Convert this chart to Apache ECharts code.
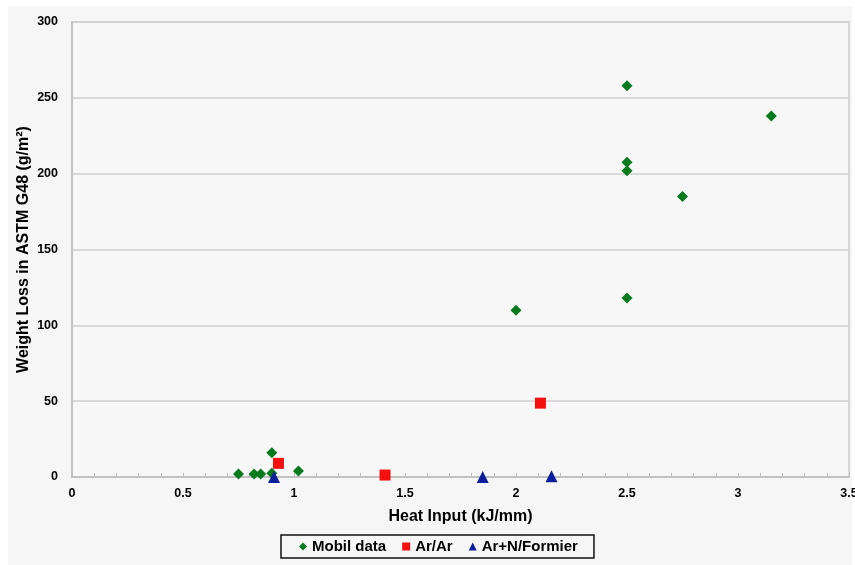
<!DOCTYPE html>
<html>
<head>
<meta charset="utf-8">
<script src="https://cdn.jsdelivr.net/npm/echarts@6/dist/echarts.min.js"></script>
<style>
html,body{margin:0;padding:0;background:#ffffff;}
#chart{width:855px;height:565px;}
</style>
</head>
<body>
<div id="chart"></div>
<script>
// Data
const mobilX = [0.75, 0.82, 0.85, 0.90, 0.90, 1.02, 2.00, 2.50, 2.50, 2.50, 2.50, 2.75, 3.15];
const mobilY = [2, 2, 2, 2.5, 16, 4, 110, 258, 207.5, 202, 118, 185, 238];
const arArX = [0.93, 1.41, 2.11];
const arArY = [9, 1.3, 48.7];
const arNX = [0.91, 1.85, 2.16];
const arNY = [0, 0, 0.5];
const seriesNames = ['Mobil data', 'Ar/Ar', 'Ar+N/Formier'];
const xTitle = 'Heat Input (kJ/mm)';
const yTitle = 'Weight Loss in ASTM G48 (g/m\u00B2)';

const zip = (xs, ys) => xs.map((x, i) => [x, ys[i]]);

const chart = echarts.init(document.getElementById('chart'));
const font = 'Liberation Sans, Arial, sans-serif';
chart.setOption({
  backgroundColor: '#ffffff',
  animation: false,
  graphic: [{
    type: 'rect', left: 8, top: 6, z: -10,
    shape: {width: 844, height: 559},
    style: {fill: '#f6f6f6'}
  }],
  grid: {left: 72, top: 22, right: 6, bottom: 88, show: true, outerBoundsMode: 'none',
         containLabel: false,
         backgroundColor: '#f7f7f7', borderColor: '#cbcbcb', borderWidth: 1.5},
  legend: {
    data: [
      {name: seriesNames[0], icon: 'diamond'},
      {name: seriesNames[1], icon: 'rect'},
      {name: seriesNames[2], icon: 'triangle'}
    ],
    left: 281, top: 535, itemWidth: 8, itemHeight: 8, itemGap: 16,
    borderColor: '#111', borderWidth: 1.5, padding: [4, 16, 4, 18],
    textStyle: {fontFamily: font, fontWeight: 'bold', fontSize: 15, color: '#000'}
  },
  xAxis: {
    type: 'value', min: 0, max: 3.5, interval: 0.5,
    name: xTitle, nameLocation: 'middle', nameGap: 32,
    nameTextStyle: {fontFamily: font, fontWeight: 'bold', fontSize: 16, color: '#000'},
    axisLine: {lineStyle: {color: '#bdbdbd', width: 1.5}},
    axisTick: {show: true, inside: true, length: 4, lineStyle: {color: '#bdbdbd'}},
    minorTick: {show: true, splitNumber: 5, length: 4, lineStyle: {color: '#bdbdbd'}},
    splitLine: {show: false},
    axisLabel: {fontFamily: font, fontWeight: 'bold', fontSize: 12.5, color: '#000', margin: 10,
      formatter: v => String(+v.toFixed(1))}
  },
  yAxis: {
    type: 'value', min: 0, max: 300, interval: 50,
    name: yTitle, nameLocation: 'middle', nameGap: 40, nameMoveOverlap: false,
    nameTextStyle: {fontFamily: font, fontWeight: 'bold', fontSize: 16, color: '#000'},
    axisLine: {show: true, lineStyle: {color: '#bdbdbd', width: 1.5}},
    axisTick: {show: false},
    splitLine: {show: true, lineStyle: {color: '#cfcfcf', width: 1.5}},
    axisLabel: {fontFamily: font, fontWeight: 'bold', fontSize: 12.5, color: '#000', margin: 14}
  },
  series: [
    {name: seriesNames[0], type: 'scatter', symbol: 'diamond', symbolSize: 11,
     itemStyle: {color: '#077a1c', opacity: 1}, data: zip(mobilX, mobilY)},
    {name: seriesNames[1], type: 'scatter', symbol: 'rect', symbolSize: 11,
     itemStyle: {color: '#f51010', opacity: 1}, data: zip(arArX, arArY)},
    {name: seriesNames[2], type: 'scatter', symbol: 'triangle', symbolSize: 12,
     itemStyle: {color: '#0b1e9c', opacity: 1}, data: zip(arNX, arNY)}
  ]
});
</script>
</body>
</html>
